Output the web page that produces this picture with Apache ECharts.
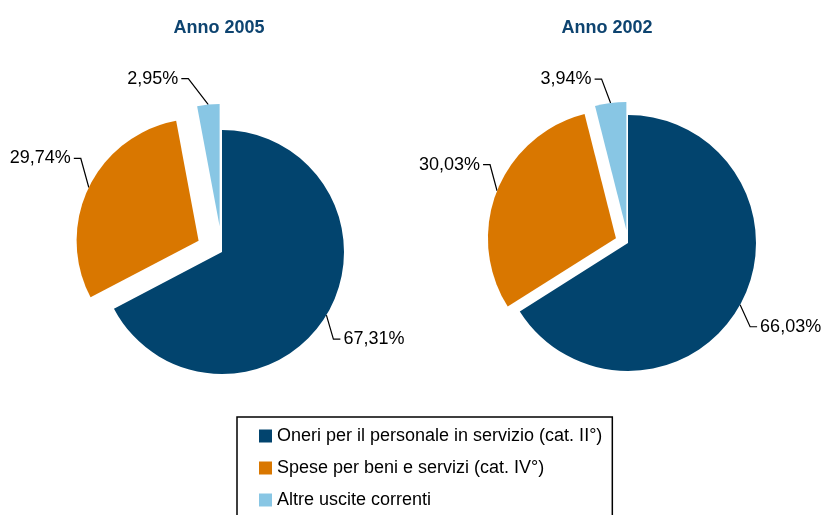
<!DOCTYPE html>
<html>
<head>
<meta charset="utf-8">
<script src="https://cdn.jsdelivr.net/npm/echarts@6/dist/echarts.min.js"></script>
<style>
  html, body { margin: 0; padding: 0; background: #fff; }
  #main { width: 823px; height: 515px; }
</style>
</head>
<body>
<div id="main"></div>
<script>
// dati
const categories = [
  'Oneri per il personale in servizio (cat. II°)',
  'Spese per beni e servizi (cat. IV°)',
  'Altre uscite correnti'
];
const years = ['Anno 2005', 'Anno 2002'];
const values2005 = [67.31, 29.74, 2.95];
const values2002 = [66.03, 30.03, 3.94];

const colors = ['#02446e', '#d97700', '#88c6e4'];
const font = 'Liberation Sans, Arial, sans-serif';

// spostamento delle etichette rispetto al punto di ancoraggio (stile Excel)
const labelOffsets = [
  [[7, 24], [-8, -29], [-20, -26]],
  [[10, 22], [-7, -26], [-9, -24]]
];

const fmt = v => v.toFixed(2).replace('.', ',') + '%';

function makeData(values) {
  return values.map((v, i) => ({
    name: categories[i],
    value: v,
    selected: i > 0,
    itemStyle: { color: colors[i] }
  }));
}

function makePie(values, center, radius, offset) {
  return {
    type: 'pie',
    center: center,
    radius: radius,
    startAngle: 90,
    clockwise: true,
    selectedMode: 'multiple',
    selectedOffset: offset,
    avoidLabelOverlap: false,
    animation: false,
    silent: true,
    data: makeData(values),
    label: {
      show: true,
      formatter: p => fmt(p.value),
      fontFamily: font,
      fontSize: 18,
      color: '#000',
      distanceToLabelLine: 3
    },
    labelLine: {
      show: true,
      length: 12,
      length2: 7,
      lineStyle: { color: '#000', width: 1.2 }
    },
    labelLayout: function (p) {
      const off = labelOffsets[p.seriesIndex][p.dataIndex];
      const pts = p.labelLinePoints;
      if (!pts) return {};
      const a = pts[0];
      const dir = off[0] > 0 ? 1 : -1;
      const turn = [a[0] + off[0], a[1] + off[1]];
      const end = [turn[0] + dir * 7, turn[1]];
      return {
        dx: end[0] - pts[2][0],
        dy: end[1] - pts[2][1],
        labelLinePoints: [a, turn, end]
      };
    }
  };
}

const chart = echarts.init(document.getElementById('main'));
chart.setOption({
  backgroundColor: '#fff',
  animation: false,
  title: [
    {
      text: years[0], left: 214, top: 14, textAlign: 'center',
      textStyle: { fontFamily: font, fontSize: 18, fontWeight: 'bold', color: '#0e4470' }
    },
    {
      text: years[1], left: 602, top: 14, textAlign: 'center',
      textStyle: { fontFamily: font, fontSize: 18, fontWeight: 'bold', color: '#0e4470' }
    }
  ],
  legend: {
    orient: 'vertical',
    left: 237,
    top: 417,
    height: 140,
    data: categories,
    icon: 'rect',
    itemWidth: 13,
    itemHeight: 13,
    itemGap: 14,
    selectedMode: false,
    borderColor: '#000',
    borderWidth: 1.5,
    padding: [10, 10, 20, 22],
    textStyle: { fontFamily: font, fontSize: 18, color: '#000' }
  },
  series: [
    makePie(values2005, [222, 252], 122, 26),
    makePie(values2002, [628, 243], 128, 13)
  ]
});
</script>
</body>
</html>
